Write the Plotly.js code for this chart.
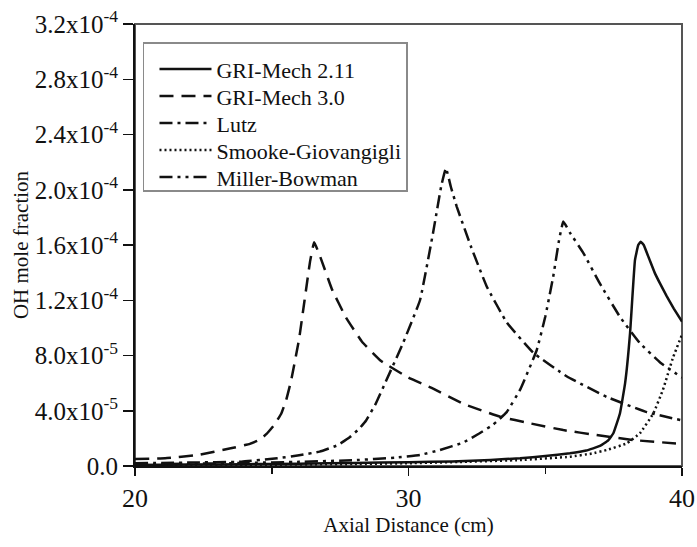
<!DOCTYPE html>
<html>
<head>
<meta charset="utf-8">
<script src="https://cdn.plot.ly/plotly-3.0.1.min.js"></script>
<style>
  html, body { margin: 0; padding: 0; background: #ffffff; }
  #chart { width: 697px; height: 547px; }
</style>
</head>
<body>
<div id="chart"></div>
<script>
// OH mole fraction profiles along the flame axis for five kinetic mechanisms.
const seriesNames = ['GRI-Mech 2.11', 'GRI-Mech 3.0', 'Lutz', 'Smooke-Giovangigli', 'Miller-Bowman'];

// Axial distance (cm) and OH mole fraction for each mechanism
const gri211X = [20, 22, 24, 26, 28, 30, 31.6, 33, 34.08, 35, 35.9, 36.5, 37.0, 37.3, 37.49, 37.73, 37.92, 38.1, 38.28, 38.4, 38.49, 38.6, 38.8, 39.0, 39.2, 39.44, 39.7, 40];
const gri211Y = [0.08e-5, 0.1e-5, 0.13e-5, 0.17e-5, 0.22e-5, 0.28e-5, 0.33e-5, 0.44e-5, 0.56e-5, 0.72e-5, 0.92e-5, 1.12e-5, 1.45e-5, 1.85e-5, 2.37e-5, 3.8e-5, 6.0e-5, 9.6e-5, 14.9e-5, 16.0e-5, 16.24e-5, 16.0e-5, 15.0e-5, 14.0e-5, 13.2e-5, 12.3e-5, 11.4e-5, 10.45e-5];

const gri30X = [20, 21.1, 22.3, 23.5, 24.2, 24.56, 24.8, 25.1, 25.35, 25.53, 25.71, 26.0, 26.2, 26.4, 26.55, 26.8, 27.2, 27.7, 28.3, 29, 30, 30.9, 32.0, 33.35, 34.44, 35.66, 36.88, 38.22, 40];
const gri30Y = [0.5e-5, 0.56e-5, 0.8e-5, 1.28e-5, 1.6e-5, 1.9e-5, 2.3e-5, 3.0e-5, 3.8e-5, 4.8e-5, 6.2e-5, 9.2e-5, 12.0e-5, 14.8e-5, 16.2e-5, 15.0e-5, 12.8e-5, 10.8e-5, 9.0e-5, 7.6e-5, 6.4e-5, 5.6e-5, 4.5e-5, 3.57e-5, 3.09e-5, 2.6e-5, 2.24e-5, 1.88e-5, 1.6e-5];

const lutzX = [20, 22, 23.9, 25.2, 26.0, 26.75, 27.4, 27.86, 28.2, 28.45, 28.8, 29.19, 29.8, 30.42, 30.9, 31.2, 31.37, 31.55, 31.76, 32.3, 32.86, 33.59, 34.56, 35.78, 37.25, 38.71, 40];
const lutzY = [0.2e-5, 0.25e-5, 0.31e-5, 0.56e-5, 0.78e-5, 1.04e-5, 1.5e-5, 2.1e-5, 2.7e-5, 3.3e-5, 4.5e-5, 6.2e-5, 8.9e-5, 12.0e-5, 16.9e-5, 20.3e-5, 21.56e-5, 20.2e-5, 18.8e-5, 15.8e-5, 13.0e-5, 10.4e-5, 8.2e-5, 6.5e-5, 5.0e-5, 3.9e-5, 3.3e-5];

const smookeX = [20, 24, 28, 30, 32, 34.08, 35.9, 36.7, 37.25, 37.98, 38.46, 38.95, 39.3, 39.68, 40];
const smookeY = [0.05e-5, 0.08e-5, 0.14e-5, 0.2e-5, 0.3e-5, 0.43e-5, 0.67e-5, 0.9e-5, 1.16e-5, 1.64e-5, 2.37e-5, 3.8e-5, 5.5e-5, 7.9e-5, 9.5e-5];

const millerX = [20, 22, 24, 26, 28, 29.5, 30.42, 31.15, 32.0, 32.6, 33.1, 33.59, 34.1, 34.69, 35.0, 35.29, 35.5, 35.66, 35.9, 36.4, 37.0, 37.73, 38.46, 39.2, 40];
const millerY = [0.12e-5, 0.16e-5, 0.22e-5, 0.3e-5, 0.42e-5, 0.6e-5, 0.8e-5, 1.16e-5, 1.7e-5, 2.37e-5, 3.0e-5, 3.9e-5, 5.6e-5, 8.4e-5, 10.8e-5, 13.7e-5, 16.3e-5, 17.7e-5, 16.9e-5, 15.4e-5, 13.2e-5, 10.8e-5, 8.9e-5, 7.5e-5, 6.4e-5];

// Axis ticks
const yTickVals = [0, 4e-5, 8e-5, 1.2e-4, 1.6e-4, 2.0e-4, 2.4e-4, 2.8e-4, 3.2e-4];
const yTickText = ['0.0', '4.0x10<sup>-5</sup>', '8.0x10<sup>-5</sup>', '1.2x10<sup>-4</sup>', '1.6x10<sup>-4</sup>',
                   '2.0x10<sup>-4</sup>', '2.4x10<sup>-4</sup>', '2.8x10<sup>-4</sup>', '3.2x10<sup>-4</sup>'];
const xTickVals = [20, 30, 40];

const FONT = 'Liberation Serif';
const INK = '#111111';

const dashStyles = ['solid', '14px,8px', '13px,5px,3px,5px', '2px,3px', '13px,5px,3px,5px,3px,5px'];
const xs = [gri211X, gri30X, lutzX, smookeX, millerX];
const ys = [gri211Y, gri30Y, lutzY, smookeY, millerY];

const traces = seriesNames.map((name, i) => ({
  type: 'scatter',
  mode: 'lines',
  name: name,
  x: xs[i],
  y: ys[i],
  line: { color: INK, width: 2.5, dash: dashStyles[i], shape: 'spline', smoothing: 0.3 },
  hoverinfo: 'skip'
}));

const layout = {
  width: 697,
  height: 547,
  margin: { l: 135, r: 15, t: 24, b: 81 },
  paper_bgcolor: '#ffffff',
  plot_bgcolor: '#ffffff',
  font: { family: FONT, color: INK, size: 20 },
  showlegend: true,
  legend: {
    x: 0.0146, y: 0.959, xanchor: 'left', yanchor: 'top',
    bgcolor: '#ffffff', bordercolor: '#8a8a8a', borderwidth: 1.5,
    font: { family: FONT, size: 22, color: INK },
    tracegroupgap: 0, itemwidth: 62
  },
  xaxis: {
    range: [20, 40],
    tickmode: 'array', tickvals: xTickVals, ticktext: xTickVals.map(String),
    ticks: 'outside', ticklen: 8, tickwidth: 1.5, tickcolor: INK,
    minor: { dtick: 5, tick0: 20, ticks: 'outside', ticklen: 6, tickwidth: 1.5, tickcolor: INK, showgrid: false },
    showline: true, linecolor: INK, linewidth: 2,
    showgrid: false, zeroline: false,
    tickfont: { family: FONT, size: 26, color: INK },
    title: { text: 'Axial Distance (cm)', font: { family: FONT, size: 21, color: INK }, standoff: 4 }
  },
  yaxis: {
    range: [0, 3.2e-4],
    tickmode: 'array', tickvals: yTickVals, ticktext: yTickText,
    ticks: 'outside', ticklen: 10, tickwidth: 1.5, tickcolor: INK,
    showline: true, linecolor: INK, linewidth: 2,
    showgrid: false, zeroline: false,
    tickfont: { family: FONT, size: 25, color: INK },
    title: { text: 'OH mole fraction', font: { family: FONT, size: 21, color: INK }, standoff: 0 }
  },
  shapes: [{
    type: 'rect', xref: 'paper', yref: 'paper', x0: 0, x1: 1, y0: 0, y1: 1,
    line: { color: '#555555', width: 2 }, layer: 'below'
  }]
};

Plotly.newPlot('chart', traces, layout, { staticPlot: true, displayModeBar: false }).then(gd => {
  const leg = gd.querySelector('.legend');
  if (!leg) return;
  // longer line samples in the legend key
  leg.querySelectorAll('.legendlines path').forEach(p => p.setAttribute('d', 'M15,0h52'));
  // tighter row pitch for the legend entries
  leg.querySelectorAll('g.traces').forEach((g, i) => {
    const m = /translate\(\s*([-\d.]+)[\s,]+([-\d.]+)\s*\)/.exec(g.getAttribute('transform') || '');
    const x0 = m ? m[1] : 0;
    g.setAttribute('transform', 'translate(' + x0 + ',' + (27 + 27 * i) + ')');
  });
  const bg = leg.querySelector('rect.bg');
  if (bg) bg.setAttribute('height', 148);
});
</script>
</body>
</html>
